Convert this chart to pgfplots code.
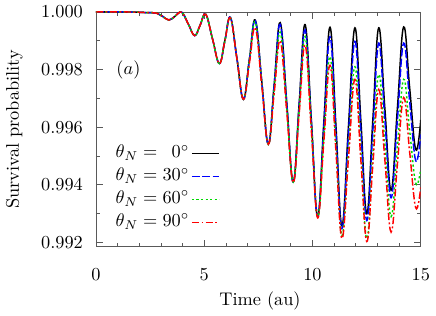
\documentclass[border=0pt]{standalone}
\usepackage{pgfplots}
\pgfplotsset{compat=1.18}
\definecolor{myblue}{rgb}{0,0,1}
\definecolor{mygreen}{rgb}{0,0.85,0}
\definecolor{myred}{rgb}{1,0,0}
\begin{document}
\begin{tikzpicture}
\begin{axis}[
  scale only axis,
  width=177.5pt, height=128.3pt,
  xmin=0, xmax=15, ymin=0.99185, ymax=1.0,
  xtick={0,5,10,15}, minor x tick num=4,
  ytick={0.992,0.994,0.996,0.998,1.0}, minor y tick num=1,
  tick pos=both, tick align=inside,
  major tick length=3.8pt, minor tick length=2pt,
  scaled y ticks=false,
  axis line style={black!65},
  every tick/.style={black!65},
  y tick label style={/pgf/number format/fixed, /pgf/number format/fixed zerofill, /pgf/number format/precision=3, xshift=-3.6pt},
  x tick label style={yshift=-8.5pt},
  xlabel={Time (au)},
  ylabel={Survival probability},
  every axis x label/.style={at={(axis description cs:0.505,-0.229)}, anchor=center},
  every axis y label/.style={at={(axis description cs:-0.251,0.5)}, anchor=center, rotate=90},
  legend cell align=right,
  legend plot pos=right,
  legend image code/.code={\draw[#1] (0pt,0pt) -- (15pt,0pt);},
  legend style={draw=none, fill=none, at={(0.40,0.462)}, anchor=north east, row sep=0pt,
    nodes={inner sep=1pt, text height=7.5pt, text depth=3pt}},
]
\addplot[black, line width=0.8pt, smooth, tension=0.7] coordinates {
(0,1.00000) (1.5,1.00000) (2.3,0.99998) (2.8,0.99996) (3.08,0.99985) (3.37,0.99972)
(3.665,0.99986) (3.96,0.99999) (4.26,0.99959) (4.56,0.99918) (4.815,0.99955) (5.07,0.99992)
(5.385,0.99906) (5.70,0.99821) (5.955,0.99901) (6.21,0.99981) (6.51,0.99839) (6.81,0.99697)
(7.085,0.99835) (7.36,0.99972) (7.66,0.99757) (7.96,0.99541) (8.235,0.99752) (8.51,0.99963)
(8.81,0.99687) (9.11,0.99410) (9.385,0.99683) (9.66,0.99956) (9.95,0.99623) (10.24,0.99290)
(10.525,0.99619) (10.81,0.99947) (11.085,0.99603) (11.36,0.99258) (11.66,0.99602) (11.96,0.99945)
(12.235,0.99623) (12.51,0.99300) (12.785,0.99623) (13.06,0.99945) (13.345,0.99663) (13.63,0.99381)
(13.92,0.99665) (14.21,0.99948) (14.49,0.99735) (14.77,0.99522) (15.0,0.99625)
};
\addlegendentry{$\theta_N = \hphantom{0}0^\circ$}
\addplot[myblue, line width=0.8pt, smooth, tension=0.7, dash pattern=on 4.5pt off 1.2pt] coordinates {
(0,1.00000) (1.5,1.00000) (2.3,0.99998) (2.8,0.99996) (3.08,0.99985) (3.37,0.99972)
(3.665,0.99986) (3.96,0.99999) (4.26,0.99959) (4.56,0.99918) (4.815,0.99955) (5.07,0.99992)
(5.385,0.99906) (5.70,0.99821) (5.955,0.99901) (6.21,0.99981) (6.51,0.99839) (6.81,0.99697)
(7.085,0.99834) (7.36,0.99970) (7.66,0.99756) (7.96,0.99541) (8.235,0.99749) (8.51,0.99957)
(8.81,0.99684) (9.11,0.99410) (9.385,0.99674) (9.66,0.99938) (9.95,0.99614) (10.24,0.99290)
(10.525,0.99602) (10.81,0.99914) (11.085,0.99581) (11.36,0.99248) (11.66,0.99573) (11.96,0.99898)
(12.235,0.99587) (12.51,0.99276) (12.785,0.99584) (13.06,0.99892) (13.345,0.99624) (13.63,0.99355)
(13.92,0.99624) (14.21,0.99892) (14.49,0.99688) (14.77,0.99483) (15.0,0.99575)
};
\addlegendentry{$\theta_N = 30^\circ$}
\addplot[mygreen, line width=0.8pt, smooth, tension=0.7, dash pattern=on 1.2pt off 1.3pt] coordinates {
(0,1.00000) (1.5,1.00000) (2.3,0.99998) (2.8,0.99996) (3.08,0.99985) (3.37,0.99972)
(3.665,0.99986) (3.96,0.99999) (4.26,0.99959) (4.56,0.99918) (4.815,0.99955) (5.07,0.99992)
(5.385,0.99906) (5.70,0.99821) (5.955,0.99901) (6.21,0.99980) (6.51,0.99839) (6.81,0.99697)
(7.085,0.99831) (7.36,0.99965) (7.66,0.99753) (7.96,0.99541) (8.235,0.99736) (8.51,0.99930)
(8.81,0.99670) (9.11,0.99410) (9.385,0.99662) (9.66,0.99915) (9.95,0.99602) (10.24,0.99290)
(10.525,0.99568) (10.81,0.99845) (11.085,0.99535) (11.36,0.99224) (11.66,0.99517) (11.96,0.99810)
(12.235,0.99512) (12.51,0.99214) (12.785,0.99499) (13.06,0.99783) (13.345,0.99537) (13.63,0.99290)
(13.92,0.99528) (14.21,0.99766) (14.49,0.99586) (14.77,0.99406) (15.0,0.99455)
};
\addlegendentry{$\theta_N = 60^\circ$}
\addplot[myred, line width=0.8pt, smooth, tension=0.7, dash pattern=on 4pt off 1.3pt on 1pt off 1.3pt] coordinates {
(0,1.00000) (1.5,1.00000) (2.3,0.99998) (2.8,0.99996) (3.08,0.99985) (3.37,0.99972)
(3.665,0.99986) (3.96,0.99999) (4.26,0.99959) (4.56,0.99918) (4.815,0.99955) (5.07,0.99992)
(5.385,0.99906) (5.70,0.99821) (5.955,0.99900) (6.21,0.99979) (6.51,0.99838) (6.81,0.99697)
(7.085,0.99821) (7.36,0.99945) (7.66,0.99743) (7.96,0.99541) (8.235,0.99721) (8.51,0.99900)
(8.81,0.99655) (9.11,0.99408) (9.385,0.99646) (9.66,0.99885) (9.95,0.99585) (10.24,0.99285)
(10.525,0.99550) (10.81,0.99815) (11.085,0.99515) (11.36,0.99214) (11.66,0.99490) (11.96,0.99766)
(12.235,0.99485) (12.51,0.99203) (12.785,0.99467) (13.06,0.99731) (13.345,0.99484) (13.63,0.99236)
(13.92,0.99470) (14.21,0.99703) (14.49,0.99512) (14.77,0.99320) (15.0,0.99392)
};
\addlegendentry{$\theta_N = 90^\circ$}
\node at (axis cs:1.5,0.998) {$(a)$};
\end{axis}
\end{tikzpicture}
\end{document}
